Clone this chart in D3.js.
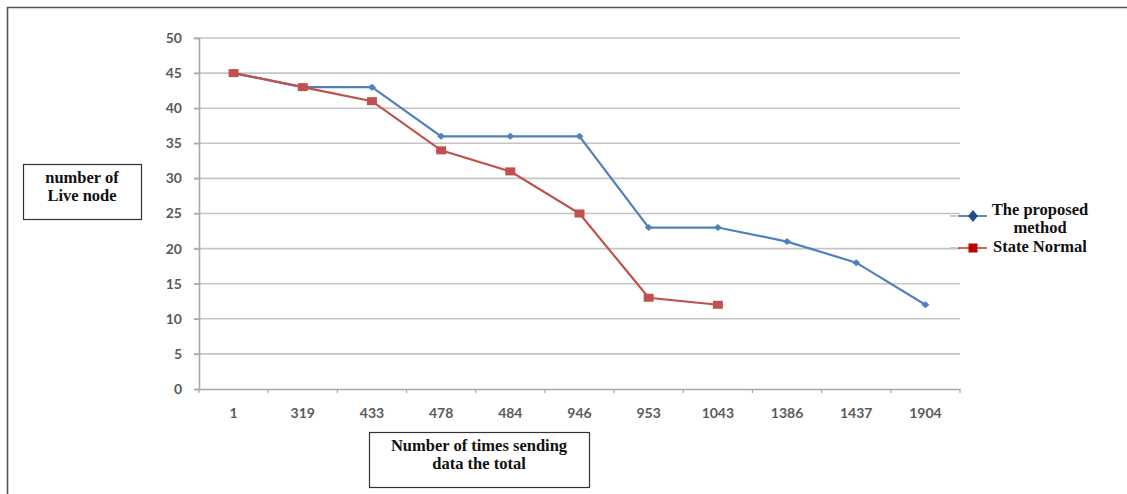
<!DOCTYPE html>
<html>
<head>
<meta charset="utf-8">
<script src="https://cdn.jsdelivr.net/npm/d3@7"></script>
<style>
  html, body { margin: 0; padding: 0; background: #fff; }
  svg { display: block; }
  .tick text { font-family: Lato, "Open Sans", sans-serif; font-weight: bold; font-size: 14px; fill: #5a5a5a; }
  .serif { font-family: "Liberation Serif", "DejaVu Serif", serif; font-weight: bold; font-size: 16.5px; fill: #111; }
</style>
</head>
<body>
<script>
// Categories along the x axis (number of sending rounds)
const categories = ["1", "319", "433", "478", "484", "946", "953", "1043", "1386", "1437", "1904"];
// Live nodes for each scheme
const proposedValues = [45, 43, 43, 36, 36, 36, 23, 23, 21, 18, 12];
const normalValues = [45, 43, 41, 34, 31, 25, 13, 12];
const yTicks = [0, 5, 10, 15, 20, 25, 30, 35, 40, 45, 50];
const seriesNames = ["The proposed method", "State Normal"];

const W = 1127, H = 494;
const plot = { left: 199, right: 960, top: 38, bottom: 389 };

const svg = d3.select("body").append("svg").attr("width", W).attr("height", H);

// outer frame (top and left edges)
svg.append("path")
  .attr("d", `M7.5,${H} V7.5 H${W}`)
  .attr("fill", "none").attr("stroke", "#555").attr("stroke-width", 1.6);

const x = d3.scaleBand().domain(categories).range([plot.left, plot.right]).padding(0);
const y = d3.scaleLinear().domain([0, 50]).range([plot.bottom, plot.top]);

// horizontal gridlines
svg.append("g").selectAll("line").data(yTicks.filter(d => d > 0)).join("line")
  .attr("x1", plot.left - 5).attr("x2", plot.right)
  .attr("y1", d => y(d)).attr("y2", d => y(d))
  .attr("stroke", "#c4c4c4").attr("stroke-width", 1.6);

// y axis
const yAxis = svg.append("g").attr("transform", `translate(${plot.left},0)`)
  .call(d3.axisLeft(y).tickValues(yTicks).tickSize(5).tickPadding(12));
yAxis.select(".domain").attr("stroke", "#a8a8a8").attr("stroke-width", 1.6);
yAxis.selectAll(".tick line").attr("stroke", "#a8a8a8").attr("stroke-width", 1.4);

// x axis with ticks at category boundaries
const xAxis = svg.append("g").attr("transform", `translate(0,${plot.bottom})`)
  .call(d3.axisBottom(x).tickSize(0).tickPadding(19));
xAxis.select(".domain").attr("stroke", "#a8a8a8").attr("stroke-width", 1.6);
const bounds = categories.map(c => x(c)).concat([x(categories[categories.length - 1]) + x.bandwidth()]);
svg.append("g").selectAll("line").data(bounds).join("line")
  .attr("x1", d => d).attr("x2", d => d)
  .attr("y1", plot.bottom).attr("y2", plot.bottom + 4)
  .attr("stroke", "#a8a8a8").attr("stroke-width", 1.2);

const cx = (d, i) => x(categories[i]) + x.bandwidth() / 2;
const line = d3.line().x((d, i) => cx(d, i)).y(d => y(d));

const blue = "#4f81bd", red = "#c0504d";

svg.append("path").datum(proposedValues).attr("d", line)
  .attr("fill", "none").attr("stroke", blue).attr("stroke-width", 2.2);
svg.append("path").datum(normalValues).attr("d", line)
  .attr("fill", "none").attr("stroke", red).attr("stroke-width", 2.2);

// markers
svg.append("g").selectAll("path").data(proposedValues).join("path")
  .attr("transform", (d, i) => `translate(${cx(d, i)},${y(d)})`)
  .attr("d", "M0,-3.5 L4,0 L0,3.5 L-4,0 Z").attr("fill", blue);
svg.append("g").selectAll("rect").data(normalValues).join("rect")
  .attr("x", (d, i) => cx(d, i) - 5).attr("y", d => y(d) - 4)
  .attr("width", 10).attr("height", 8).attr("fill", red);

// legend
const lg = svg.append("g");
[[216, "#1f4e8c", "diamond"], [248, "#c00000", "square"]].forEach(([ly, col, shape]) => {
  lg.append("line").attr("x1", 950).attr("x2", 957).attr("y1", ly).attr("y2", ly)
    .attr("stroke", "#c4c4c4").attr("stroke-width", 1.6);
  lg.append("line").attr("x1", 958).attr("x2", 987).attr("y1", ly).attr("y2", ly)
    .attr("stroke", shape === "diamond" ? "#2f5f9a" : "#c0302d").attr("stroke-width", 1.5);
  if (shape === "diamond") {
    lg.append("path").attr("transform", `translate(973,${ly})`)
      .attr("d", "M0,-6 L5,0 L0,6 L-5,0 Z").attr("fill", col);
  } else {
    lg.append("rect").attr("x", 968.5).attr("y", ly - 4.5).attr("width", 9).attr("height", 9).attr("fill", col);
  }
});
lg.append("text").attr("class", "serif").attr("x", 1040).attr("y", 215).attr("text-anchor", "middle").text("The proposed");
lg.append("text").attr("class", "serif").attr("x", 1040).attr("y", 233).attr("text-anchor", "middle").text("method");
lg.append("text").attr("class", "serif").attr("x", 993).attr("y", 252).text("State Normal");

// axis title boxes
function titleBox(x0, y0, w, h, lines) {
  svg.append("rect").attr("x", x0 + 0.5).attr("y", y0 + 0.5).attr("width", w).attr("height", h)
    .attr("fill", "#fff").attr("stroke", "#333").attr("stroke-width", 1.2);
  lines.forEach((t, i) => {
    svg.append("text").attr("class", "serif")
      .attr("x", x0 + w / 2).attr("y", y0 + 19 + i * 18)
      .attr("text-anchor", "middle").text(t);
  });
}
titleBox(23, 164, 118, 55, ["number of", "Live node"]);
titleBox(369, 432, 220, 55, ["Number of times sending", "data the total"]);
</script>
</body>
</html>
